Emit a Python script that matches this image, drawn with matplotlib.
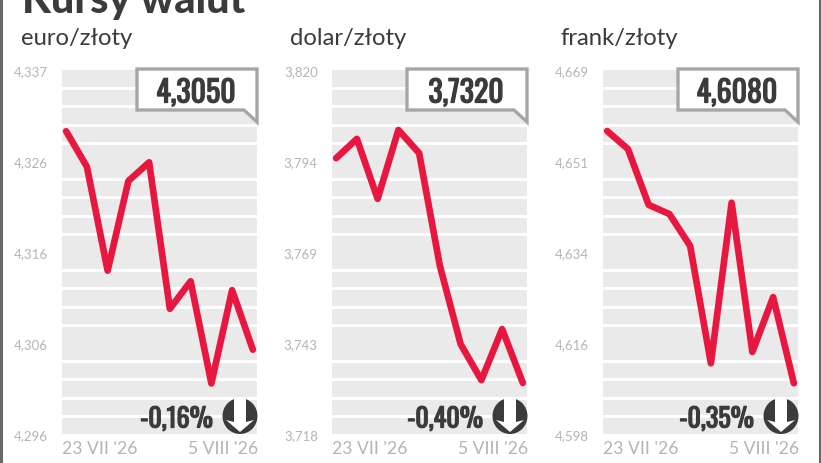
import numpy as np
import matplotlib
matplotlib.use("Agg")
import matplotlib.pyplot as plt
import matplotlib.patheffects as pe
from matplotlib.patches import Ellipse, Polygon
from matplotlib.lines import Line2D
from matplotlib.transforms import ScaledTranslation

W, H = 821, 464

# Data
days = list(range(10))
date_labels = ["23 VII '26", "5 VIII '26"]
names = ["euro/złoty", "dolar/złoty", "frank/złoty"]
euro = [4.3301, 4.3261, 4.3144, 4.3245, 4.3266, 4.3101, 4.3132, 4.3017, 4.3122, 4.3055]
dolar = [3.7953, 3.8007, 3.7839, 3.8032, 3.7967, 3.7651, 3.7432, 3.7331, 3.7474, 3.7323]
frank = [4.6571, 4.6536, 4.6427, 4.6409, 4.6347, 4.6118, 4.6431, 4.6140, 4.6247, 4.6079]
series = [euro, dolar, frank]
limits = [(4.296, 4.337), (3.718, 3.820), (4.598, 4.669)]
tick_labels = [
    ["4,296", "4,306", "4,316", "4,326", "4,337"],
    ["3,718", "3,743", "3,769", "3,794", "3,820"],
    ["4,598", "4,616", "4,634", "4,651", "4,669"],
]
current = ["4,3050", "3,7320", "4,6080"]
changes = ["-0,16%", "-0,40%", "-0,35%"]

RED = "#e8173f"
DARK = "#3b3b3b"
BAND = "#eaeaea"
LIGHT = "#b4b4b4"
BOX = "#a6a6a6"
NARROW = ["Oswald", "Barlow Condensed", "Roboto", "DejaVu Sans"]
# Oswald only comes in its light default here, a thin stroke brings it to bold
HEAVY = [pe.withStroke(linewidth=0.9, foreground=DARK)]


def fx(x):
    return x / W


def fy(y):
    return 1 - y / H


fig = plt.figure(figsize=(W / 100, H / 100), dpi=100, facecolor="white")

# Frame on the left and right edges
for x in (1, 819.5):
    fig.add_artist(Line2D([fx(x), fx(x)], [0, 1], color="#6a6a6a", lw=2.2))

fig.text(fx(22), fy(13), "Kursy walut", fontsize=30, fontweight="black",
         family="Lato", color=DARK, ha="left", va="baseline")

lefts = [62, 332, 603]
name_x = [21, 290, 560]
for i, left in enumerate(lefts):
    ax = fig.add_axes([fx(left), fy(435), 195 / W, 364 / H])
    ax.set_facecolor(BAND)
    for s in ax.spines.values():
        s.set_visible(False)
    ax.set_xlim(-0.2, 9.2)
    ax.set_ylim(*limits[i])

    ax.set_yticks(np.linspace(limits[i][0], limits[i][1], 5))
    ax.set_yticklabels(tick_labels[i], family="Lato", fontsize=9.5, color=LIGHT)
    ax.set_yticks(np.linspace(limits[i][0], limits[i][1], 21)[1:-1], minor=True)
    ax.grid(True, which="minor", axis="y", color="white", lw=2.16)
    ax.tick_params(axis="y", which="both", length=0, pad=10.2)
    ax.tick_params(axis="x", which="both", length=0, pad=4)
    ax.set_axisbelow(True)

    ax.set_xticks([days[0], days[-1]])
    ax.set_xticklabels(date_labels, family="Lato", fontsize=12.6, color=LIGHT)
    labs = ax.get_xticklabels()
    labs[0].set_ha("left")
    labs[1].set_ha("right")
    labs[0].set_transform(labs[0].get_transform() + ScaledTranslation(-4 / 100, 0, fig.dpi_scale_trans))
    labs[1].set_transform(labs[1].get_transform() + ScaledTranslation(5 / 100, 0, fig.dpi_scale_trans))

    ax.plot(days, series[i], color=RED, lw=4.8, solid_capstyle="round",
            solid_joinstyle="round", clip_on=False, zorder=3)

    fig.text(fx(name_x[i]), fy(45), names[i], family="Lato", fontsize=17.2,
             color=DARK, ha="left", va="baseline")

    # Callout with the latest rate
    box = [(left + 75, 70), (left + 195, 70), (left + 195, 123),
           (left + 182, 111), (left + 75, 111)]
    fig.add_artist(Polygon([(fx(a), fy(b)) for a, b in box], closed=True,
                           facecolor="white", edgecolor=BOX, lw=2.4,
                           transform=fig.transFigure, zorder=5))
    fig.text(fx(left + 134), fy(91), current[i], family=NARROW, fontsize=21.5,
             fontweight="bold", color=DARK, ha="center", va="center_baseline",
             zorder=6, path_effects=HEAVY)

    # Change and the down arrow badge
    fig.text(fx(left + 151), fy(418), changes[i], family=NARROW, fontsize=18.8,
             fontweight="bold", color=DARK, ha="right", va="center_baseline",
             zorder=6, path_effects=HEAVY)
    cx, cy = left + 178, 417
    fig.add_artist(Ellipse((fx(cx), fy(cy)), 35 / W, 36 / H, facecolor=DARK,
                           edgecolor="none", transform=fig.transFigure, zorder=5))
    arrow = [(cx - 6, cy - 19), (cx + 6, cy - 19), (cx + 6, cy + 6), (cx + 14, cy + 4),
             (cx, cy + 16), (cx - 14, cy + 4), (cx - 6, cy + 6)]
    fig.add_artist(Polygon([(fx(a), fy(b)) for a, b in arrow], closed=True,
                           facecolor="white", edgecolor="none",
                           transform=fig.transFigure, zorder=6))

fig.savefig("out.png", dpi=100)
